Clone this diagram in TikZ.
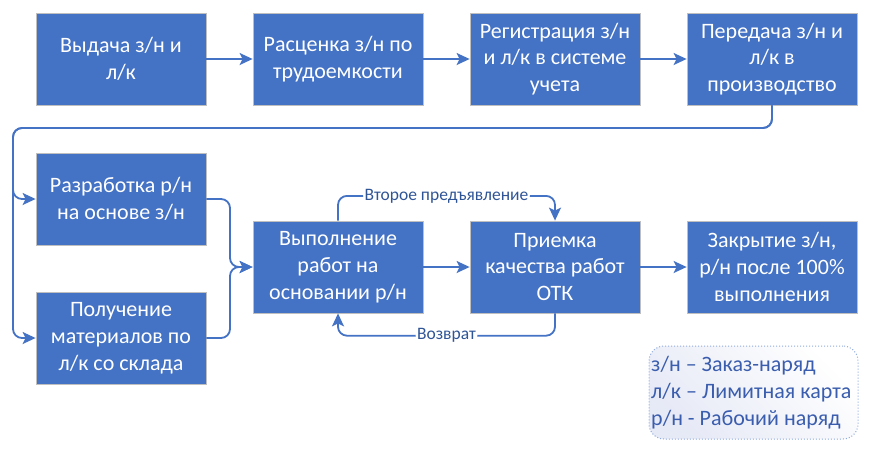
\documentclass[tikz,border=0pt]{standalone}
\usepackage{fontspec}
\setmainfont{Carlito}
\usetikzlibrary{arrows.meta,calc}
\definecolor{boxblue}{HTML}{4472C4}
\definecolor{boxedge}{HTML}{BFBFBF}
\definecolor{labblue}{HTML}{2F5597}
\definecolor{legtext}{HTML}{3A5DAE}
\definecolor{legedge}{HTML}{8FAADC}
\definecolor{legfill}{HTML}{E6E9F6}
\begin{document}
\begin{tikzpicture}[x=1pt,y=-1pt,
  stepbox/.style={draw=boxedge,line width=0.8pt,fill=boxblue,text=white,
    minimum width=170pt,minimum height=92pt,inner sep=0pt,align=center,
    font=\fontsize{22}{26.8}\selectfont},
  flow/.style={draw=boxblue,line width=1.8pt,rounded corners=9pt,
    -{Stealth[length=13pt,width=12pt,inset=3pt]}},
  flowlabel/.style={fill=white,text=labblue,inner sep=1.5pt,
    font=\fontsize{17.5}{20}\selectfont},
  legendbox/.style={draw=legedge,dotted,line width=1pt,rounded corners=15pt,
    top color=legfill,bottom color=white,shading angle=135,
    minimum width=209pt,minimum height=93pt,inner sep=0pt},
  legendtext/.style={inner sep=0pt,align=left,text=legtext,
    font=\fontsize{22}{27}\selectfont}]
\useasboundingbox (0,0) rectangle (869,448);
% top row
\node[stepbox] (b1) at (121,59) {Выдача з/н и\\л/к};
\node[stepbox] (b2) at (338,59) {Расценка з/н по\\трудоемкости};
\node[stepbox] (b3) at (555,59) {Регистрация з/н\\и л/к в системе\\учета};
\node[stepbox] (b4) at (772,59) {Передача з/н и\\л/к в\\производство};
% lower rows
\node[stepbox] (b5) at (121,199) {Разработка р/н\\на основе з/н};
\node[stepbox] (b6) at (121,338) {Получение\\материалов по\\л/к со склада};
\node[stepbox] (b7) at (338,267) {Выполнение\\работ на\\основании р/н};
\node[stepbox] (b8) at (555,267) {Приемка\\качества работ\\ОТК};
\node[stepbox] (b9) at (772,267) {Закрытие з/н,\\р/н после 100\%\\выполнения};
% legend
\node[legendbox] (leg) at (753.5,392.5) {};
\node[legendtext,anchor=west] (legt) at ($(leg.west)+(2.5,0)$) {з/н – Заказ-наряд\\л/к – Лимитная карта\\р/н - Рабочий наряд};
% helper coordinates
\coordinate (jl) at (13,128);
\coordinate (jm) at (230,267);
% connectors
\draw[flow] (b1.east) -- (b2.west);
\draw[flow] (b2.east) -- (b3.west);
\draw[flow] (b3.east) -- (b4.west);
\draw[flow] (b4.south) |- (jl) |- (b5.west);
\draw[flow] (b4.south) |- (jl) |- (b6.west);
\draw[flow] (b5.east) -| (jm) -- (b7.west);
\draw[flow] (b6.east) -| (jm) -- (b7.west);
\draw[flow] (b7.east) -- (b8.west);
\draw[flow] (b8.east) -- (b9.west);
\draw[flow] (b7.north) -- ++(0,-24.7) -| node[flowlabel,pos=0.25] {Второе предъявление} (b8.north);
\draw[flow] (b8.south) -- ++(0,22.3) -| node[flowlabel,pos=0.25] {Возврат} (b7.south);
\end{tikzpicture}
\end{document}
